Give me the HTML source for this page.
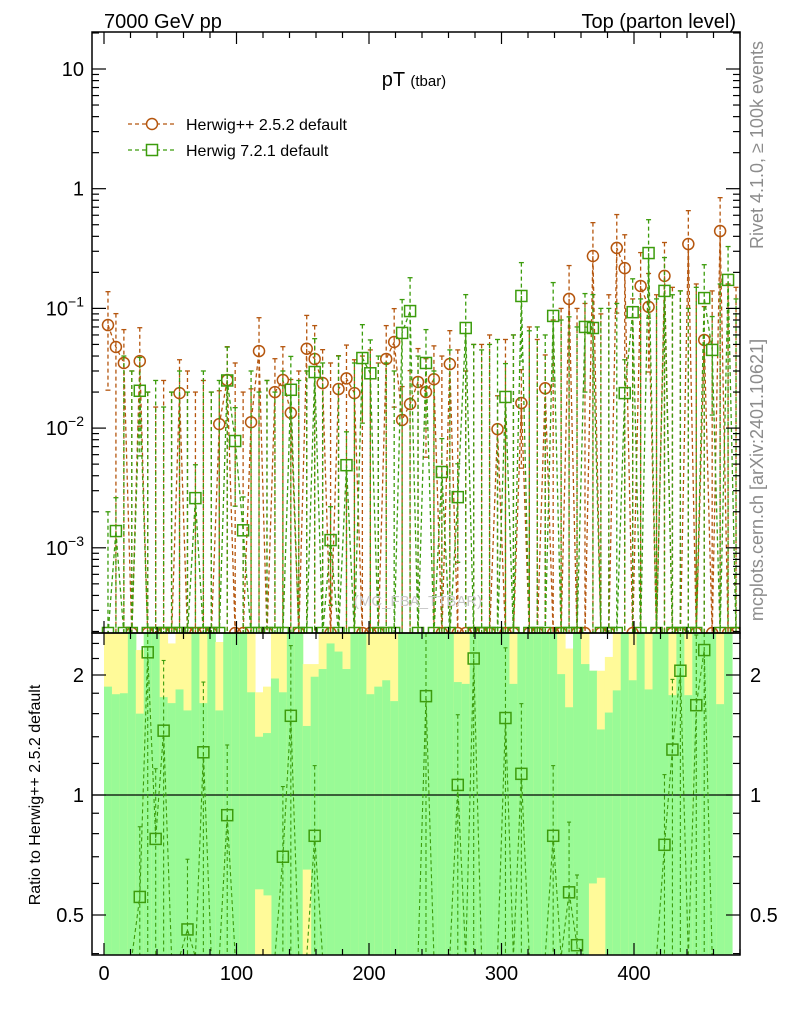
<!DOCTYPE html>
<html><head><meta charset="utf-8"><style>
body{margin:0;background:#fff}
svg{display:block;font-family:"Liberation Sans",sans-serif}
</style></head><body>
<svg id="c" width="786" height="1024" viewBox="0 0 786 1024"></svg>
<script>
// ---- data ----
const binWidth = 6;
const nBins = 80;
const hppBins = [0,1,2,4,9,14,15,18,19,21,22,23,25,26,27,29,30,31,35,36,37,38,39,40,41,43,49,52,55,58,61,64,65,67,68,70,73,75,77];
const hppVals = [0.0726,0.0476,0.035,0.0363,0.0196,0.0108,0.0252,0.0112,0.044,0.02,0.0252,0.0134,0.046,0.0378,0.0238,0.0212,0.026,0.0196,0.0378,0.0524,0.0117,0.0159,0.0243,0.02,0.0256,0.0343,0.0098,0.0162,0.0215,0.12,0.274,0.32,0.217,0.154,0.103,0.187,0.345,0.0545,0.443];
const h7Bins = [1,4,11,15,16,17,23,26,28,30,32,33,37,38,40,42,44,45,50,52,56,60,61,65,66,68,70,75,76,78];
const h7Vals = [0.00138,0.0205,0.0026,0.025,0.0078,0.0014,0.0209,0.0294,0.00116,0.0049,0.0385,0.0287,0.0624,0.095,0.035,0.0043,0.00265,0.0686,0.0182,0.127,0.0865,0.07,0.0686,0.0196,0.093,0.29,0.14,0.122,0.045,0.173];
// upper error of empty (zero) bins
const hppZeroErr = [0,0,0,0.03,0,0.02,0.015,0.025,0.02,0,0.03,0.02,0.025,0.02,0,0,0.035,0.02,0,0,0.025,0,0,0,0.03,0,0,0,0.035,0.03,0,0,0.04,0.045,0.035,0,0,0,0,0,0,0,0.04,0,0.045,0.03,0.05,0.05,0.06,0,0.055,0.06,0,0.07,0.055,0,0.08,0.1,0,0.1,0.11,0,0.09,0.13,0,0,0.12,0,0,0.13,0,0.15,0.14,0,0.16,0,0.14,0,0.16,0.15];
const h7ZeroErr = [0.002,0,0.04,0.03,0,0.02,0.025,0.015,0.02,0.03,0.02,0,0.03,0.02,0.025,0,0,0,0.03,0.02,0.025,0.02,0.03,0,0.025,0.03,0,0.035,0,0.04,0,0.035,0,0,0.04,0.035,0.03,0,0,0.04,0,0.03,0,0.045,0,0,0.05,0.045,0.05,0.055,0,0.06,0,0.065,0.07,0.06,0,0.08,0.085,0.07,0,0,0.1,0.1,0.11,0,0,0.12,0,0.12,0,0.13,0.14,0.1,0.15,0,0,0.16,0,0.12];
const ratioBins = [4,5,6,7,10,12,15,22,23,26,40,44,46,50,52,56,58,59,70,71,72,74,75];
const ratioVals = [0.555,2.28,0.776,1.45,0.46,1.28,0.89,0.70,1.58,0.79,1.77,1.06,2.2,1.56,1.13,0.79,0.57,0.42,0.75,1.30,2.05,1.68,2.31];
const greenTop = [1.87,1.79,1.80,2.6,1.60,2.6,2.6,1.76,1.70,1.84,1.63,2.6,1.70,2.6,1.63,2.6,2.6,2.6,1.81,1.40,1.43,1.96,1.81,2.6,2.6,1.49,1.98,2.07,2.40,2.29,2.07,2.6,2.6,1.79,1.87,1.94,1.72,2.6,2.6,2.6,2.6,2.6,2.6,2.6,1.92,1.90,2.6,2.6,2.6,2.6,2.6,1.90,2.6,2.6,2.6,2.6,2.6,2.01,1.66,2.6,2.13,2.05,1.46,1.61,1.83,2.6,1.94,2.6,1.84,2.6,2.6,1.78,2.6,1.78,2.6,2.6,2.6,1.69,2.6,2.6];
const yellowTop = [2.6,2.6,2.6,2.6,2.31,2.6,2.6,2.6,2.40,2.6,2.6,2.29,2.6,2.6,2.42,2.29,2.6,2.6,2.6,1.81,1.87,2.6,2.6,2.6,2.6,2.13,2.13,2.6,2.6,2.6,2.6,2.6,2.6,2.6,2.6,2.6,2.6,2.6,2.6,2.6,2.6,2.6,2.6,2.6,2.6,2.6,2.6,2.6,2.6,2.6,2.6,2.6,2.6,2.6,2.6,2.6,2.6,2.6,2.33,2.33,2.6,2.05,2.05,2.22,2.6,2.6,2.6,2.6,2.6,2.6,2.6,2.6,2.6,2.6,2.6,2.6,2.38,2.6,2.6,2.6];
const lowYellowBins = [19,20,25,61,62];
const lowYellowVals = [0.58,0.56,0.65,0.60,0.62];
const xTicks = [0,100,200,300,400];
const yTicks = [10,1,0.1,0.01,0.001];
const yTickLabels = ["10","1","10^-1","10^-2","10^-3"];
const rTicks = [2,1,0.5];
const rTickLabels = ["2","1","0.5"];

// ---- geometry ----
const L=92,R=740,T=32,MB=633,RB=955;
const X=v=>104+1.325*v;
const Y=v=>69+(1-Math.log10(v))*119.7;
const YR=v=>795-Math.log2(v)*120;
const NS="http://www.w3.org/2000/svg";
const svg=document.getElementById('c');
function mk(tag,attrs,parent){const e=document.createElementNS(NS,tag);for(const k in attrs)e.setAttribute(k,attrs[k]);(parent||svg).appendChild(e);return e;}
const cl=v=>Math.max(T,Math.min(MB,v));
const clr=v=>Math.max(MB,Math.min(RB,v));
const C1="#b5560e",C2="#3c9c0c";

const defs=mk('defs',{});
const cp1=mk('clipPath',{id:'cm'},defs);mk('rect',{x:L,y:T,width:R-L,height:MB-T},cp1);
const cp2=mk('clipPath',{id:'cr'},defs);mk('rect',{x:L,y:MB,width:R-L,height:RB-MB},cp2);

// ---- ratio bands ----
const gBand=mk('g',{'clip-path':'url(#cr)'});


for(let i=0;i<nBins;i++){
  const x0=X(i*binWidth),x1=X((i+1)*binWidth);
  if(x0>=729)break;
  const yt=YR(yellowTop[i]),gt=YR(greenTop[i]);
  const ry=mk('rect',{x:x0,y:yt,width:x1-x0+0.5,height:RB-yt,fill:'#fffa99'},gBand);
  
  
  const rg=mk('rect',{x:x0,y:gt,width:x1-x0+0.5,height:RB-gt,fill:'#99fa96'},gBand);
  
  
}
lowYellowBins.forEach((b,k)=>{
  const x0=X(b*binWidth),y=YR(lowYellowVals[k]);
  const r=mk('rect',{x:x0,y:y,width:binWidth*1.325+0.5,height:RB-y,fill:'#fffa99'},gBand);
  
  
});

// ---- main series ----
function series(bins,vals,zeroErr,color,kind,name){
  const g=mk('g',{'clip-path':'url(#cm)'});
  
  
  const full=new Array(nBins).fill(null);
  bins.forEach((b,k)=>full[b]=vals[k]);
  let pts=[];
  for(let i=0;i<nBins;i++){
    const x=X(i*binWidth+3);
    const y=full[i]?Y(full[i]):MB+2;
    pts.push(x.toFixed(1)+','+y.toFixed(1));
  }
  mk('polyline',{points:pts.join(' '),fill:'none',stroke:color,'stroke-width':1.3,'stroke-dasharray':'4,3'},g);
  for(let i=0;i<nBins;i++){
    const x=X(i*binWidth+3);
    const v=full[i];
    const y=v?Y(v):MB;
    if(v){
      const yu=Y(v*1.9),yd=(i%4==0)?cl(Y(v/3.5)):MB;
      mk('line',{x1:x,y1:yu,x2:x,y2:yd,stroke:color,'stroke-width':1.3,'stroke-dasharray':'4,3'},g);
      mk('line',{x1:x-2.5,y1:yu,x2:x+2.5,y2:yu,stroke:color,'stroke-width':1.3},g);
      if(yd<MB)mk('line',{x1:x-2.5,y1:yd,x2:x+2.5,y2:yd,stroke:color,'stroke-width':1.3},g);
    } else if(zeroErr[i]>0){
      const yu=Y(zeroErr[i]);
      mk('line',{x1:x,y1:yu,x2:x,y2:MB,stroke:color,'stroke-width':1.3,'stroke-dasharray':'4,3'},g);
      mk('line',{x1:x-2.5,y1:yu,x2:x+2.5,y2:yu,stroke:color,'stroke-width':1.3},g);
    }
    let m;
    if(kind==='c')m=mk('circle',{cx:x,cy:y,r:5.5,fill:'none',stroke:color,'stroke-width':1.5},g);
    else m=mk('rect',{x:x-5.5,y:y-5.5,width:11,height:11,fill:'none',stroke:color,'stroke-width':1.5},g);
    
    
  }
}
series(hppBins,hppVals,hppZeroErr,C1,'c','herwigpp-series');
series(h7Bins,h7Vals,h7ZeroErr,C2,'s','herwig7-series');

// ---- ratio series ----
const gR=mk('g',{'clip-path':'url(#cr)'});


mk('line',{x1:L,y1:YR(1),x2:R,y2:YR(1),stroke:'#000','stroke-width':1.2},gR);
{
  const full=new Array(nBins).fill(null);
  ratioBins.forEach((b,k)=>full[b]=ratioVals[k]);
  let pts=[];
  for(let i=0;i<79;i++){const x=X(i*binWidth+3);const y=full[i]?YR(full[i]):RB+2;pts.push(x.toFixed(1)+','+y.toFixed(1));}
  mk('polyline',{points:pts.join(' '),fill:'none',stroke:C2,'stroke-width':1.1,'stroke-dasharray':'4,3'},gR);
  for(let i=0;i<nBins;i++){
    const v=full[i]; if(!v)continue;
    const x=X(i*binWidth+3),y=YR(v);
    const yu=clr(YR(v*1.5));
    mk('line',{x1:x,y1:yu,x2:x,y2:RB,stroke:C2,'stroke-width':1.1,'stroke-dasharray':'4,3'},gR);
    mk('line',{x1:x-2,y1:yu,x2:x+2,y2:yu,stroke:C2,'stroke-width':1.1},gR);
    const m=mk('rect',{x:x-5.5,y:y-5.5,width:11,height:11,fill:'none',stroke:C2,'stroke-width':1.5},gR);
    
    
  }
}

// ---- frames & ticks ----
mk('rect',{x:L,y:T,width:R-L,height:MB-T,fill:'none',stroke:'#000','stroke-width':1.5});
mk('rect',{x:L,y:MB,width:R-L,height:RB-MB,fill:'none',stroke:'#000','stroke-width':1.5});
const ax=mk('g',{stroke:'#000','stroke-width':1.2});


for(let d=-4;d<=1;d++)for(let m=1;m<=9;m++){
  const v=m*Math.pow(10,d);const y=Y(v);if(y<T||y>MB)continue;
  const len=m===1?14:7;
  mk('line',{x1:L,y1:y,x2:L+len,y2:y},ax);mk('line',{x1:R,y1:y,x2:R-len,y2:y},ax);
}
const rMinor=[0.4,0.5,0.6,0.7,0.8,0.9,1,1.2,1.4,1.6,1.8,2,2.2,2.4];
rMinor.forEach(v=>{const y=YR(v);const len=(v===1||v===2||v===0.5)?14:7;
  mk('line',{x1:L,y1:y,x2:L+len,y2:y},ax);mk('line',{x1:R,y1:y,x2:R-len,y2:y},ax);});
for(let v=0;v<=480;v+=20){const x=X(v);const len=v%100===0?12:6;
  mk('line',{x1:x,y1:RB,x2:x,y2:RB-len},ax);mk('line',{x1:x,y1:MB,x2:x,y2:MB-len},ax);
  mk('line',{x1:x,y1:MB,x2:x,y2:MB+len},ax);mk('line',{x1:x,y1:T,x2:x,y2:T+len},ax);}

function txt(s,x,y,opt){const e=mk('text',Object.assign({x:x,y:y,'font-size':20,fill:'#000'},opt||{}));e.textContent=s;return e;}
xTicks.forEach(v=>{const t=txt(String(v),X(v),980,{'text-anchor':'middle'});});
yTicks.forEach((v,k)=>{
  const lab=yTickLabels[k];const y=Y(v)+7;let t;
  if(lab.includes('^')){const [b,e]=lab.split('^');t=txt('',84,y,{'text-anchor':'end'});
    const s1=mk('tspan',{},t);s1.textContent=b;const s2=mk('tspan',{dy:-9,'font-size':14},t);s2.textContent=e.replace('-','−');}
  else t=txt(lab,84,y,{'text-anchor':'end'});
  
});
rTicks.forEach((v,k)=>{const y=YR(v)+7;
  const a=txt(rTickLabels[k],84,y,{'text-anchor':'end'});
  const b=txt(rTickLabels[k],750,y);});
</script>
<div style="position:absolute;left:0;top:0;width:786px;height:1024px;pointer-events:none">
<svg width="786" height="1024" style="font-family:'Liberation Sans',sans-serif">
<text x="104" y="28" font-size="20">7000 GeV pp</text>
<text x="736" y="28" font-size="20" text-anchor="end">Top (parton level)</text>
<text x="414" y="86" font-size="20" text-anchor="middle">pT <tspan font-size="15">(tbar)</tspan></text>
<text x="418" y="606" font-size="15" fill="#c8c8c8" text-anchor="middle">(MC_FBA_TTBAR)</text>
<g>
<line x1="128" y1="124" x2="176" y2="124" stroke="#b5560e" stroke-width="1.3" stroke-dasharray="4,3"/>
<circle cx="152" cy="124" r="5.5" fill="#fff" stroke="#b5560e" stroke-width="1.5"/>
<text x="186" y="130" font-size="16">Herwig++ 2.5.2 default</text>
<line x1="128" y1="150" x2="176" y2="150" stroke="#3c9c0c" stroke-width="1.3" stroke-dasharray="4,3"/>
<rect x="146.5" y="144.5" width="11" height="11" fill="#fff" stroke="#3c9c0c" stroke-width="1.5"/>
<text x="186" y="156" font-size="16">Herwig 7.2.1 default</text>
</g>
<text transform="translate(763,145) rotate(-90)" font-size="18" fill="#8c8c8c" text-anchor="middle">Rivet 4.1.0, ≥ 100k events</text>
<text transform="translate(763,480) rotate(-90)" font-size="18" fill="#8c8c8c" text-anchor="middle">mcplots.cern.ch [arXiv:2401.10621]</text>
<text transform="translate(40,795) rotate(-90)" font-size="16" text-anchor="middle">Ratio to Herwig++ 2.5.2 default</text>
</svg></div>
</body></html>
